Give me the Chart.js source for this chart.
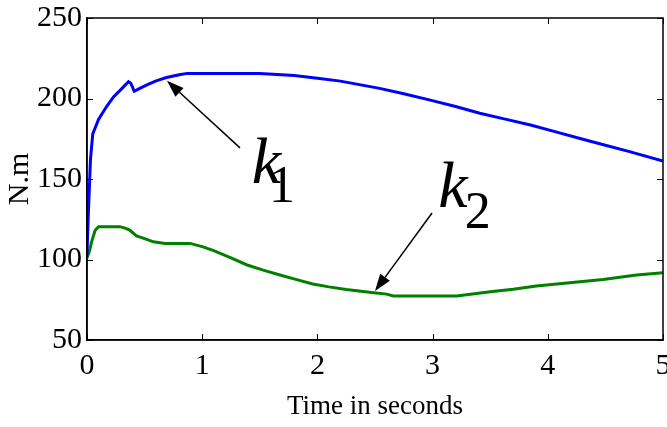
<!DOCTYPE html>
<html>
<head>
<meta charset="utf-8">
<script src="https://cdn.jsdelivr.net/npm/chart.js@4/dist/chart.umd.min.js"></script>
<style>
  html, body { margin: 0; padding: 0; background: #fff; }
  #wrap { width: 667px; height: 427px; }
</style>
</head>
<body>
<div id="wrap"><canvas id="graficoPar"></canvas></div>
<script>
// time (s) and torque (N.m)
var tiempoK1 = [0, 0.01, 0.03, 0.05, 0.1, 0.17, 0.23, 0.3, 0.36, 0.38, 0.41, 0.45, 0.52, 0.6, 0.69, 0.8, 0.87,
                1.5, 1.8, 2.0, 2.2, 2.54, 2.75, 2.98, 3.2, 3.41, 3.63, 3.85, 4.07, 4.28, 4.5, 4.71, 5];
var parK1    = [103, 125, 162, 178, 187, 195, 201, 206, 210.5, 209.5, 204.5, 206, 208.5, 211, 213, 214.8, 215.6,
                215.6, 214.3, 212.6, 210.8, 206.3, 203, 199, 195, 190.8, 187.2, 183.5, 179.3, 175.2, 171, 167, 161.2];

var tiempoK2 = [0, 0.02, 0.04, 0.07, 0.1, 0.286, 0.33, 0.37, 0.43, 0.5, 0.576, 0.68, 0.894, 1.0, 1.1, 1.25, 1.39,
                1.53, 1.675, 1.82, 1.96, 2.1, 2.25, 2.49, 2.6, 2.66, 3.21, 3.5, 3.7, 3.9, 4.19, 4.48, 4.77, 5];
var parK2    = [101, 105, 111, 118, 120.4, 120.4, 119.5, 118.3, 114.6, 113, 111, 110, 110, 108, 105.5, 101, 96.6,
                93.4, 90.4, 87.5, 84.8, 83, 81.4, 79.4, 78.5, 77.3, 77.3, 80, 81.5, 83.5, 85.6, 87.6, 90.4, 91.8];

var ticksX = [0, 1, 2, 3, 4, 5];
var ticksY = [50, 100, 150, 200, 250];

function pares(xs, ys) {
    return xs.map(function (x, i) { return { x: x, y: ys[i] }; });
}

var FUENTE = "'Liberation Serif', 'Times New Roman', serif";

/* ── marco cerrado con marcas hacia dentro + flechas y etiquetas k1, k2 ── */
var marcoPlugin = {
    id: 'marco',
    afterDatasetsDraw: function (chart) {
        var c = chart.ctx, a = chart.chartArea;
        var sx = chart.scales.x, sy = chart.scales.y;
        c.save();
        c.strokeStyle = '#000';
        c.lineWidth = 1.5;
        c.strokeRect(a.left, a.top, a.right - a.left, a.bottom - a.top);
        c.lineWidth = 1;
        ticksX.forEach(function (v) {
            var px = Math.round(sx.getPixelForValue(v)) + 0.5;
            c.beginPath();
            c.moveTo(px, a.bottom); c.lineTo(px, a.bottom - 6);
            c.moveTo(px, a.top);    c.lineTo(px, a.top + 6);
            c.stroke();
        });
        ticksY.forEach(function (v) {
            var py = Math.round(sy.getPixelForValue(v)) + 0.5;
            c.beginPath();
            c.moveTo(a.left, py);  c.lineTo(a.left + 6, py);
            c.moveTo(a.right, py); c.lineTo(a.right - 6, py);
            c.stroke();
        });

        function flecha(x0, y0, x1, y1) {
            var p0x = sx.getPixelForValue(x0), p0y = sy.getPixelForValue(y0);
            var p1x = sx.getPixelForValue(x1), p1y = sy.getPixelForValue(y1);
            var ang = Math.atan2(p1y - p0y, p1x - p0x);
            var L = 17, W = 6;
            var bx = p1x - L * Math.cos(ang), by = p1y - L * Math.sin(ang);
            c.strokeStyle = '#000';
            c.lineWidth = 1.5;
            c.beginPath(); c.moveTo(p0x, p0y); c.lineTo(bx, by); c.stroke();
            c.fillStyle = '#000';
            c.beginPath();
            c.moveTo(p1x, p1y);
            c.lineTo(bx + W * Math.sin(ang), by - W * Math.cos(ang));
            c.lineTo(bx - W * Math.sin(ang), by + W * Math.cos(ang));
            c.closePath(); c.fill();
        }
        flecha(1.328, 169.3, 0.694, 211);
        flecha(2.995, 128.9, 2.5, 80.4);

        function etiqueta(xk, yk, xs, ys, sub) {
            c.fillStyle = '#000';
            c.textBaseline = 'alphabetic';
            c.textAlign = 'left';
            c.font = 'italic 66px ' + FUENTE;
            c.fillText('k', sx.getPixelForValue(xk), sy.getPixelForValue(yk));
            c.font = '52px ' + FUENTE;
            c.fillText(sub, sx.getPixelForValue(xs), sy.getPixelForValue(ys));
        }
        etiqueta(1.43, 147.5, 1.58, 135.7, '1');
        etiqueta(3.05, 132.6, 3.28, 119.6, '2');
        c.restore();
    }
};

new Chart(document.getElementById('graficoPar'), {
    type: 'line',
    data: {
        datasets: [
            {
                label: 'k1',
                data: pares(tiempoK1, parK1),
                borderColor: '#0000ff',
                borderWidth: 3,
                pointRadius: 0,
                tension: 0,
                fill: false
            },
            {
                label: 'k2',
                data: pares(tiempoK2, parK2),
                borderColor: '#008000',
                borderWidth: 3,
                pointRadius: 0,
                tension: 0,
                fill: false
            }
        ]
    },
    options: {
        responsive: true,
        maintainAspectRatio: false,
        animation: false,
        layout: { padding: { top: 18, right: 4, left: 0, bottom: 0 } },
        plugins: { legend: { display: false }, tooltip: { enabled: false } },
        scales: {
            x: {
                type: 'linear',
                min: 0, max: 5,
                grid: { display: false, drawTicks: false },
                border: { display: true, color: '#000', width: 1.5 },
                ticks: { stepSize: 1, color: '#000', padding: 8, font: { family: FUENTE, size: 30 } },
                title: { display: true, text: 'Time in seconds', color: '#000', padding: { top: 0, bottom: 4 },
                         font: { family: FUENTE, size: 27 } },
                afterFit: function (s) { s.height = 87; s.paddingLeft = 0; s.paddingRight = 0; }
            },
            y: {
                min: 50, max: 250,
                grid: { display: false, drawTicks: false },
                border: { display: true, color: '#000', width: 1.5 },
                ticks: { stepSize: 50, color: '#000', padding: 5, font: { family: FUENTE, size: 30 } },
                title: { display: true, text: 'N.m', color: '#000', padding: { top: 2, bottom: 0 },
                         font: { family: FUENTE, size: 30 } },
                afterFit: function (s) { s.width = 87; s.paddingTop = 0; s.paddingBottom = 0; }
            }
        }
    },
    plugins: [marcoPlugin]
});
</script>
</body>
</html>
